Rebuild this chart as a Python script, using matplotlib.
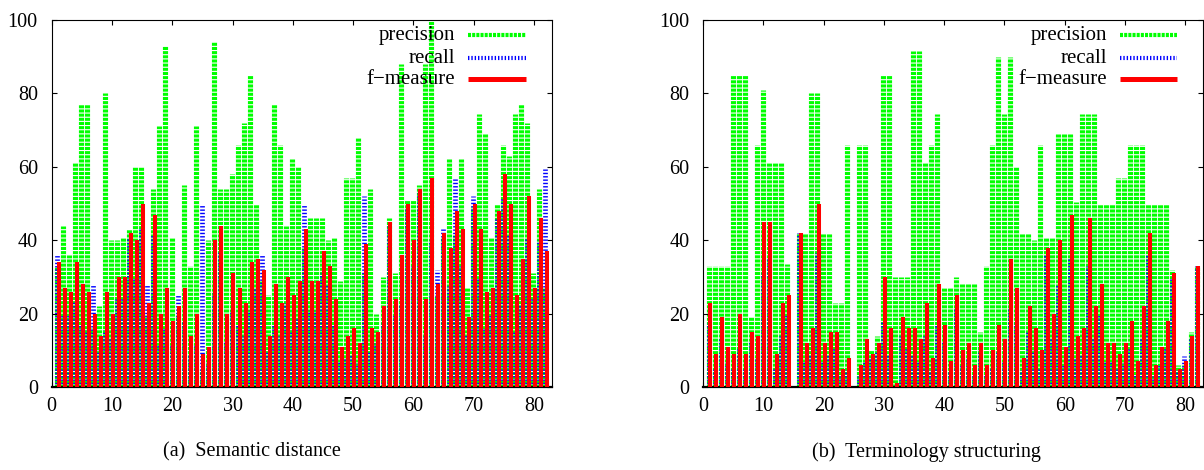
import numpy as np
import matplotlib
matplotlib.use("Agg")
import matplotlib.pyplot as plt

plt.rcParams['font.family'] = ['Liberation Serif', 'DejaVu Serif']
plt.rcParams['lines.scale_dashes'] = False

# values for x = 1..82
prec_a = [33, 44, 36, 61, 77, 77, 16, 22, 80, 40, 40, 40.5, 43, 60, 60, 19.5, 54, 71, 93, 40.5,
          19.5, 55, 33, 71, 5, 40, 94, 54, 54, 58, 66, 72, 85, 50, 29, 25, 77, 66, 44, 62,
          60, 38, 46, 46, 46, 40, 40.5, 29, 57, 57, 68, 31, 54, 20, 30, 46, 31, 88, 51, 51,
          55, 88, 100, 25, 41, 62, 41.5, 62, 27, 49, 74.5, 69, 40.5, 50, 66, 63, 74.5, 77, 72, 31,
          54, 27]
rec_a = [36, 19.5, 20, 23.5, 17, 15.5, 28, 10, 15.5, 13, 24, 24, 41, 30, 43, 28, 41.5, 11.5, 16, 11.5,
         25, 18, 9, 11.5, 50, 6.5, 25.5, 37, 12.5, 21, 17, 14, 21, 27, 36, 9.5, 17, 14, 23, 15.5,
         19, 50, 21, 21, 31, 28, 17, 7, 8, 9, 6.5, 52, 9.5, 12, 17.5, 44, 19.5, 22.5, 49, 33,
         53, 14, 40, 32, 43, 27.5, 57, 33, 14.5, 52, 30, 16, 20, 46, 51.5, 41.5, 15, 22.5, 40.5, 24,
         40, 59.5]
fmes_a = [34, 27, 26, 34, 28, 26, 20, 14, 26, 20, 30, 30, 42, 40, 50, 23, 47, 20, 27, 18,
          22, 27, 14, 20, 9, 11, 40, 44, 20, 31, 27, 23, 34, 35, 32, 14, 28, 23, 30, 25,
          29, 43, 29, 29, 37, 33, 24, 11, 14, 16, 12, 39, 16, 15, 22, 45, 24, 36, 50, 40,
          54, 24, 57, 28, 42, 38, 48, 43, 19, 50, 43, 26, 27, 48, 58, 50, 25, 35, 52, 27,
          46, 37]

prec_b = [33, 33, 33, 33, 85, 85, 85, 19, 66, 81, 61, 61, 61, 33.5, 0, 42, 42, 80, 80, 42,
          42, 23, 23, 66, 0, 66, 66, 10, 14, 85, 85, 30, 30, 30, 91.5, 91.5, 61, 66, 74.5, 27,
          27, 30, 28, 28, 28, 15, 33, 66, 90, 74.5, 90, 60, 42, 42, 40, 66, 40.5, 40.5, 69, 69,
          69, 50.5, 74.5, 74.5, 74.5, 50, 50, 50, 57, 57, 66, 66, 66, 50, 50, 50, 50, 32, 6, 6,
          15, 33]
rec_b = [17.5, 5, 13, 6.5, 5, 11, 5, 12.5, 8, 31, 35.5, 5, 14, 20, 0, 42, 7, 9, 36.5, 7,
         9, 11, 3, 4.5, 0, 3, 7, 8, 10, 18, 9, 0.5, 14, 11, 9, 7, 14, 4.5, 17, 12.5,
         4, 21.5, 6, 7.5, 3.5, 10, 3.5, 5.5, 9.5, 7, 21.5, 17.5, 4.5, 15, 10, 5.5, 36, 13, 28, 6,
         35.5, 8, 9, 33, 13, 19.5, 7, 7, 5, 6.5, 10.5, 3.5, 13, 36, 3, 6, 11, 30, 4.5, 8.5,
         13, 33]
fmes_b = [23, 9, 19, 11, 9, 20, 9, 15, 14, 45, 45, 9, 23, 25, 0, 42, 12, 16, 50, 12,
          15, 15, 5, 8, 0, 6, 13, 9, 12, 30, 16, 1, 19, 16, 16, 13, 23, 8, 28, 17,
          7, 25, 10, 12, 6, 12, 6, 10, 17, 13, 35, 27, 8, 22, 16, 10, 38, 20, 40, 11,
          47, 14, 16, 46, 22, 28, 12, 12, 9, 12, 18, 7, 22, 42, 6, 11, 18, 31, 5, 7,
          14, 33]

captions = ['(a)  Semantic distance', '(b)  Terminology structuring']
labels = ['precision', 'recall', 'f\u2212measure']

GREEN = '#00ff00'
BLUE = '#0000ff'
RED = '#ff0000'
green_ls = (0, (2.2, 0.8))
blue_ls = (0, (1.0, 1.4))

fig = plt.figure(figsize=(12.04, 4.70), dpi=100)
ax_a = fig.add_axes([0.0429, 0.1766, 0.4156, 0.7808])
ax_b = fig.add_axes([0.5841, 0.1766, 0.4153, 0.7808])


def draw_panel(ax, prec, rec, fmes):
    x = np.arange(1, len(prec) + 1)
    ax.vlines(x - 0.12, 0, prec, colors=GREEN, linewidth=3.7, linestyles=green_ls,
              capstyle='butt', zorder=1)
    ax.vlines(x - 0.12, 0, rec, colors=BLUE, linewidth=3.4, linestyles=blue_ls,
              capstyle='butt', zorder=2)
    ax.vlines(x + 0.16, 0, fmes, colors=RED, linewidth=2.9, capstyle='butt', zorder=3)

    ax.set_xlim(0, 83)
    ax.set_ylim(0, 100)
    ax.set_xticks(range(0, 81, 10))
    ax.set_yticks(range(0, 101, 20))
    ax.tick_params(direction='in', top=True, right=True, length=3.5, width=0.8,
                   labelsize=14.5)
    ax.tick_params(axis='x', pad=7)
    ax.tick_params(axis='y', pad=10)
    for s in ax.spines.values():
        s.set_linewidth(0.8)
    ax.spines['bottom'].set_linewidth(1.6)

    # key
    rows = [0.959, 0.896, 0.839]
    styles = [(GREEN, green_ls, 3.0), (BLUE, blue_ls, 3.0), (RED, '-', 3.6)]
    for lab, yy, (c, ls, lw) in zip(labels, rows, styles):
        ax.text(0.807, yy, lab, transform=ax.transAxes, ha='right', va='center',
                fontsize=15, zorder=5)
        ax.plot([0.833, 0.947], [yy, yy], transform=ax.transAxes, color=c,
                linestyle=ls, linewidth=lw, solid_capstyle='butt',
                dash_capstyle='butt', zorder=5)


draw_panel(ax_a, prec_a, rec_a, fmes_a)
draw_panel(ax_b, prec_b, rec_b, fmes_b)

fig.text(252 / 1204, 1 - 452 / 470, captions[0], ha='center', va='center', fontsize=14.5)
fig.text(926 / 1204, 1 - 452 / 470, captions[1], ha='center', va='center', fontsize=14.5)

fig.savefig('out.png', dpi=100)
